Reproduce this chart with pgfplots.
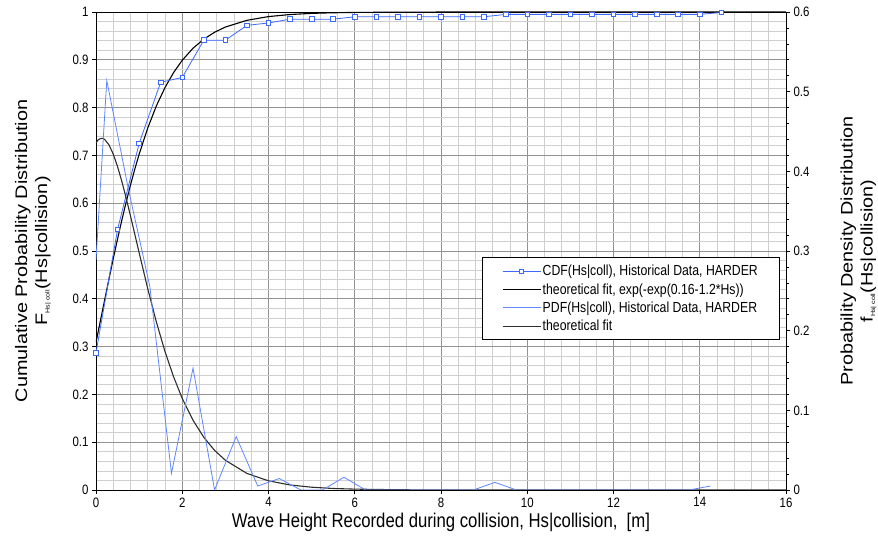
\documentclass[border=0pt]{standalone}
\usepackage{pgfplots}
\pgfplotsset{compat=1.18}
\usepackage{fontspec}
\setmainfont{Liberation Sans}[FakeStretch=0.84]
\newfontfamily\rotfont{Liberation Sans}[FakeStretch=1.19]
\definecolor{dblue}{RGB}{60,105,255}
\definecolor{lblue}{RGB}{95,135,255}
\definecolor{dgrey}{RGB}{45,45,45}
\pgfplotsset{
  every axis/.append style={
    scale only axis, width=690pt, height=478pt,
    xmin=0, xmax=16,
    tick label style={font=\fontsize{13.6}{15}\selectfont},
    /pgf/number format/assume math mode=true,
    tick align=outside, major tick length=4pt,
    axis line style={black, line width=0.8pt},
    tick style={black, line width=0.6pt},
  }
}
\begin{document}
\begin{tikzpicture}
\begin{axis}[
  ymin=0, ymax=1,
  xtick={0,2,4,6,8,10,12,14,16},
  ytick={0,0.1,0.2,0.3,0.4,0.5,0.6,0.7,0.8,0.9,1},
  yticklabels={0,0.1,0.2,0.3,0.4,0.5,0.6,0.7,0.8,0.9,1},
  minor x tick num=4, minor y tick num=4,
  minor tick length=0pt,
  xtick pos=left, ytick pos=left,
  grid=both,
  major grid style={draw=gray!85, line width=0.7pt},
  minor grid style={draw=gray!38, line width=0.7pt},
  xlabel={Wave Height Recorded during collision, Hs|collision,\ \ [m]},
  xlabel style={at={(axis description cs:0.5,-0.067)}, anchor=center, font=\fontsize{19.9}{22}\selectfont},
  ylabel={Cumulative Probability Distribution\\F\textsubscript{\fontsize{6}{7}\selectfont Hs| coll}(Hs|collision)},
  ylabel style={at={(axis description cs:-0.0913,0.5)}, anchor=center, align=center, font=\rotfont\fontsize{16.7}{20}\selectfont},
]
\coordinate (O) at (rel axis cs:0,0);
% theoretical CDF fit
\addplot[black, line width=1.1pt] coordinates {
(0,0.3093)(0.1,0.3532)(0.2,0.3973)(0.3,0.4410)(0.4,0.4838)(0.5,0.5252)(0.6,0.5649)(0.7,0.6026)(0.8,0.6381)(0.9,0.6713)(1.0,0.7023)(1.2,0.7573)(1.4,0.8036)(1.6,0.8420)(1.8,0.8734)(2.0,0.8990)(2.25,0.9242)(2.5,0.9432)(2.75,0.9576)(3,0.9685)(3.5,0.9826)(4,0.9904)(4.5,0.9947)(5,0.9971)(5.5,0.9984)(6,0.9991)(7,0.9997)(8,0.9999)(10,1)(16,1)};
% CDF data
\addplot[dblue, line width=0.8pt, mark=square*, mark size=2.3pt, mark options={fill=white, draw=dblue, line width=0.8pt}] coordinates {
(0,0.287)(0.5,0.545)(1,0.725)(1.5,0.853)(2,0.863)(2.5,0.941)(3,0.941)(3.5,0.972)(4,0.977)(4.5,0.985)(5,0.985)(5.5,0.985)(6,0.990)(6.5,0.990)(7,0.990)(7.5,0.990)(8,0.990)(8.5,0.990)(9,0.990)(9.5,0.995)(10,0.995)(10.5,0.995)(11,0.995)(11.5,0.995)(12,0.995)(12.5,0.995)(13,0.995)(13.5,0.995)(14,0.995)(14.5,0.999)};
\end{axis}
\begin{axis}[
  ymin=0, ymax=0.6,
  axis x line=none, axis y line*=right,
  ytick={0,0.1,0.2,0.3,0.4,0.5,0.6},
  yticklabels={0,0.1,0.2,0.3,0.4,0.5,0.6},
  minor y tick num=4, minor tick length=3pt,
  ylabel={Probability Density Distribution\\f\textsubscript{\fontsize{6}{7}\selectfont Hs| coll}(Hs|collision)},
  ylabel style={at={(axis description cs:1.105,0.5)}, anchor=center, align=center, font=\rotfont\fontsize{16.7}{20}\selectfont},
  legend cell align=left,
  legend style={at={(rel axis cs:0.991,0.487)}, anchor=north east, draw=black, line width=0.9pt,
    font=\fontsize{14.6}{16}\selectfont, row sep=3.2pt, inner xsep=20pt, inner ysep=6pt,
    nodes={inner sep=1.5pt}},
  legend image code/.code={\draw[mark repeat=2,mark phase=2,#1] plot coordinates {(0pt,0pt)(19pt,0pt)(38pt,0pt)};},
  legend image post style={line width=0.9pt},
]
\addlegendimage{dblue, mark=square*, mark size=2pt, mark options={fill=white, draw=dblue}}
\addlegendentry{CDF(Hs|coll), Historical Data, HARDER}
\addlegendimage{black}
\addlegendentry{theoretical fit, exp(-exp(0.16-1.2*Hs))}
% theoretical PDF fit
\addplot[dgrey, line width=1.1pt, forget plot] coordinates {
(0,0.4356)(0.05,0.4395)(0.1,0.4411)(0.15,0.4414)(0.2,0.4401)(0.3,0.4333)(0.4,0.4216)(0.5,0.4059)(0.6,0.3872)(0.7,0.3663)(0.8,0.3440)(0.9,0.3210)(1.0,0.2979)(1.2,0.2527)(1.4,0.2109)(1.6,0.1738)(1.8,0.1419)(2.0,0.1149)(2.25,0.0875)(2.5,0.0661)(2.75,0.0497)(3,0.0373)(3.5,0.0208)(4,0.0115)(4.5,0.0063)(5,0.0035)(5.5,0.0019)(6,0.0011)(7,0.0003)(8,0.0001)(10,0)(16,0)};
% PDF data
\addplot[lblue, line width=0.8pt] coordinates {
(0,0.289)(0.25,0.514)(0.75,0.378)(1.25,0.255)(1.75,0.021)(2.25,0.153)(2.75,0)(3.25,0.067)(3.75,0.005)(4.25,0.0144)(4.75,0)(5.25,0)(5.75,0.016)(6.25,0)(6.75,0)(7.25,0)(7.75,0)(8.25,0)(8.75,0)(9.25,0.0096)(9.75,0)(10.25,0)(10.75,0)(11.25,0)(11.75,0)(12.25,0)(12.75,0)(13.25,0)(13.75,0)(14.25,0.005)};
\addlegendentry{PDF(Hs|coll), Historical Data, HARDER}
\addlegendimage{dgrey}
\addlegendentry{theoretical fit}
\end{axis}
\pgfresetboundingbox
\path (O) ++(-96pt,-58pt) rectangle ++(878pt,548pt);
\end{tikzpicture}
\end{document}
